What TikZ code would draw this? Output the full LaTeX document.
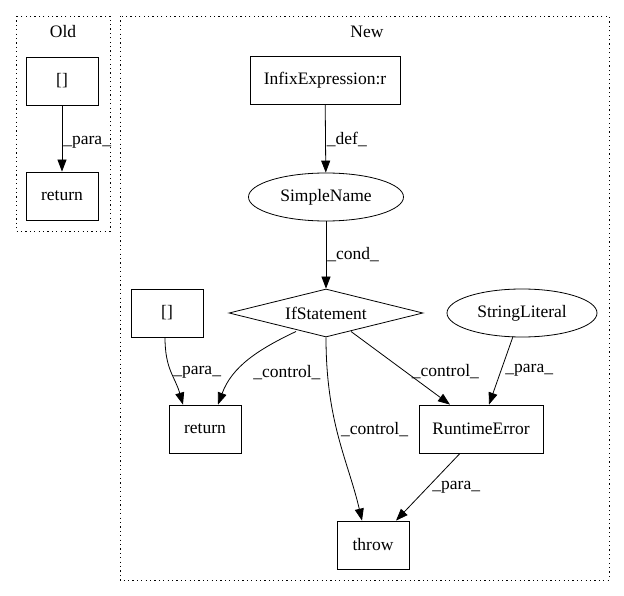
\documentclass[tikz,border=0pt]{standalone}
\usepackage{fontspec}
\setmainfont{Liberation Serif}
\usetikzlibrary{shapes.geometric,arrows.meta}
\tikzset{
  fs/.style={font=\fontsize{17.5pt}{20pt}\selectfont},
  box/.style={draw, rectangle, thick, minimum width=72pt, minimum height=48pt, inner sep=0pt, fs},
  ell/.style={draw, ellipse, thick, inner sep=0pt, fs},
  dia/.style={draw, diamond, thick, aspect=4, inner sep=0pt, minimum width=194pt, minimum height=48pt, fs},
  cluster/.style={draw, thick, dash pattern=on 1.2pt off 3.2pt},
  ctitle/.style={fs},
  lab/.style={fs, inner sep=1pt},
  edge/.style={draw, thick, -{Triangle[length=12pt,width=9pt]}},
}
\begin{document}
\begin{tikzpicture}[x=1pt,y=-1pt]
\useasboundingbox (0,0) rectangle (624,596);
% clusters
\draw[cluster] (16,16) rectangle (110,231);
\node[ctitle] (told) at (63,32) {Old};
\draw[cluster] (120,16) rectangle (609,580);
\node[ctitle] (tnew) at (367,32) {New};
% Old
\node[box] (ob) at (62,81) {[]};
\node[box] (oret) at (62,196) {return};
\draw[edge] (ob) -- node[lab, anchor=west, pos=0.55] {\_para\_} (oret);
% New
\node[box, minimum width=150pt] (infix) at (325,80) {InfixExpression:r};
\node[ell, minimum width=155pt, minimum height=48pt] (sn) at (326,197) {SimpleName};
\node[dia] (ifs) at (326,313) {IfStatement};
\node[ell, minimum width=150pt, minimum height=48pt] (sl) at (522,313) {StringLiteral};
\node[box] (nb) at (167,313) {[]};
\node[box] (ret) at (205,429) {return};
\node[box, minimum width=124pt] (rte) at (481,429) {RuntimeError};
\node[box] (thr) at (373,545) {throw};
\draw[edge] (infix) -- node[lab, anchor=west, pos=0.52] {\_def\_} (sn);
\draw[edge] (sn) -- node[lab, anchor=west, pos=0.5] {\_cond\_} (ifs);
\draw[edge] ([xshift=-2pt]nb.south) .. controls +(0,32) and +(-8,-28) .. ([xshift=-22pt]ret.north)
  node[lab, anchor=west, pos=0.5, xshift=1pt] {\_para\_};
\draw[edge] (296,331.5) .. controls +(-38,18) and +(14,-38) .. ([xshift=13pt]ret.north)
  node[lab, anchor=west, pos=0.5, xshift=4pt, yshift=-12pt] {\_control\_};
\draw[edge] (ifs.south) .. controls +(0,85) and +(-14,-60) .. ([xshift=-11pt]thr.north)
  node[lab, anchor=west, pos=0.45, xshift=3pt] {\_control\_};
\draw[edge] (351,331.5) -- node[lab, anchor=west, pos=0.55, xshift=5pt] {\_control\_} ([xshift=-31pt]rte.north);
\draw[edge] (513,336.5) -- node[lab, anchor=west, pos=0.5, xshift=3pt] {\_para\_} ([xshift=8pt]rte.north);
\draw[edge] ([xshift=-21pt]rte.south) -- node[lab, anchor=west, pos=0.5, xshift=3pt] {\_para\_} ([xshift=23pt]thr.north);
\end{tikzpicture}
\end{document}
